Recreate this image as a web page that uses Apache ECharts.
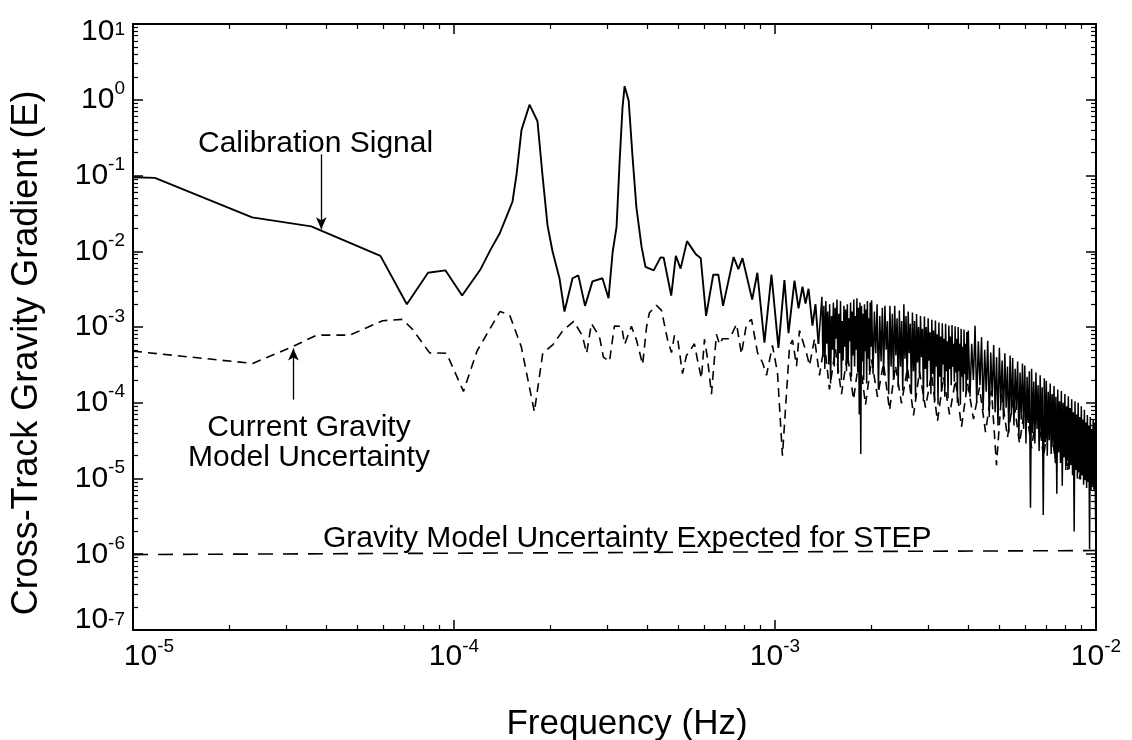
<!DOCTYPE html>
<html><head><meta charset="utf-8">
<script src="https://cdn.jsdelivr.net/npm/echarts@6/dist/echarts.min.js"></script>
<style>html,body{margin:0;padding:0;background:#fff}#c{width:1132px;height:740px}</style>
</head><body><div id="c"></div>
<script>
const FONT = '"Liberation Sans", Arial, Helvetica, sans-serif';

// ---- Calibration signal (solid), sparsely resolved part: Hz / E ----
const calFreq = [
1.0e-5,1.17e-5,2.35e-5,3.59e-5,5.9e-5,7.13e-5,8.3e-5,9.4e-5,1.06e-4,1.21e-4,1.30e-4,1.386e-4,1.468e-4,1.521e-4,1.566e-4,1.623e-4,1.719e-4,1.820e-4,1.887e-4,1.956e-4,2.027e-4,2.131e-4,2.209e-4,2.34e-4,2.44e-4,2.56e-4,2.70e-4,2.90e-4,3.03e-4,3.12e-4,3.21e-4,3.28e-4,3.35e-4,3.40e-4,3.50e-4,3.60e-4,3.70e-4,3.84e-4,3.95e-4,4.19e-4,4.40e-4,4.50e-4,4.75e-4,4.91e-4,5.08e-4,5.32e-4,5.67e-4,5.87e-4,6.10e-4,6.42e-4,6.66e-4,6.89e-4,7.43e-4,7.69e-4,7.92e-4,8.49e-4,8.81e-4,9.27e-4,9.75e-4,
1.025e-3,1.070e-3,1.102e-3,1.150e-3,1.184e-3,1.218e-3,1.245e-3,1.272e-3,1.308e-3,1.337e-3,1.366e-3];
const calVal = [
0.095,0.093,0.028,0.0213,0.0087,0.0020,0.0052,0.0056,0.0026,0.0058,0.0105,0.017,0.031,0.045,0.103,0.40,0.86,0.52,0.10,0.022,0.010,0.0044,0.0016,0.0044,0.0048,0.0019,0.0040,0.0044,0.0024,0.0097,0.0212,0.15,0.80,1.51,0.98,0.175,0.038,0.0114,0.0062,0.0056,0.0083,0.0082,0.0026,0.0087,0.0059,0.0136,0.0091,0.0081,0.0014,0.0049,0.0049,0.0019,0.0084,0.0058,0.0081,0.0023,0.0052,0.00062,0.0049,
5.3e-4,4.15e-3,8.3e-4,4.1e-3,1.76e-3,3.4e-3,2.04e-3,3.2e-3,1.04e-3,2.0e-3,6.0e-4];

// ---- Calibration signal, densely sampled part: frequency in mHz / E ----
const calDenseFreqMHz = [
1.40,1.41,1.42,1.43,1.44,1.45,1.46,1.47,1.48,1.49,
1.50,1.51,1.52,1.53,1.54,1.55,1.56,1.57,1.58,1.59,
1.60,1.61,1.62,1.63,1.64,1.65,1.66,1.67,1.68,1.69,
1.70,1.71,1.72,1.73,1.74,1.75,1.76,1.77,1.78,1.79,
1.80,1.81,1.82,1.83,1.84,1.85,1.86,1.87,1.88,1.89,
1.90,1.91,1.92,1.93,1.94,1.95,1.96,1.97,1.98,1.99,
2.00,2.02,2.04,2.06,2.08,2.10,2.12,2.14,2.16,2.18,
2.20,2.22,2.24,2.26,2.28,2.30,2.32,2.34,2.36,2.38,
2.40,2.42,2.44,2.46,2.48,2.50,2.52,2.54,2.56,2.58,
2.60,2.62,2.64,2.66,2.68,2.70,2.72,2.74,2.76,2.78,
2.80,2.82,2.84,2.86,2.88,2.90,2.92,2.94,2.96,2.98,
3.00,3.02,3.04,3.06,3.08,3.10,3.12,3.14,3.16,3.18,
3.20,3.22,3.24,3.26,3.28,3.30,3.32,3.34,3.36,3.38,
3.40,3.42,3.44,3.46,3.48,3.50,3.52,3.54,3.56,3.58,
3.60,3.62,3.64,3.66,3.68,3.70,3.72,3.74,3.76,3.78,
3.80,3.82,3.84,3.86,3.88,3.90,3.92,3.94,3.96,3.98,
4.00,4.05,4.10,4.15,4.20,4.25,4.30,4.35,4.40,4.45,
4.50,4.55,4.60,4.65,4.70,4.75,4.80,4.85,4.90,4.95,
5.00,5.05,5.10,5.15,5.20,5.25,5.30,5.35,5.40,5.45,
5.50,5.55,5.60,5.65,5.70,5.75,5.80,5.85,5.90,5.95,
6.00,6.05,6.10,6.15,6.20,6.25,6.30,6.35,6.40,6.45,
6.50,6.55,6.60,6.65,6.70,6.75,6.80,6.85,6.90,6.95,
7.00,7.05,7.10,7.15,7.20,7.25,7.30,7.35,7.40,7.45,
7.50,7.55,7.60,7.65,7.70,7.75,7.80,7.85,7.90,7.95,
8.00,8.05,8.10,8.15,8.20,8.25,8.30,8.35,8.40,8.45,
8.50,8.55,8.60,8.65,8.70,8.75,8.80,8.85,8.90,8.95,
9.00,9.05,9.10,9.15,9.20,9.25,9.30,9.35,9.40,9.45,
9.50,9.55,9.60,9.65,9.70,9.75,9.80,9.85,9.90,9.95,
10.00];
const calDenseVal = [
2.5e-3,4.0e-4,1.9e-3,2.8e-4,2.2e-3,6.0e-4,1.6e-3,3.2e-4,2.0e-3,1.8e-4,
1.4e-3,5.0e-4,2.1e-3,3.0e-4,1.8e-3,7.0e-4,2.3e-3,2.4e-4,1.5e-3,4.5e-4,
2.2e-3,2.0e-4,1.2e-3,3.6e-4,1.9e-3,5.5e-4,1.7e-3,2.6e-4,2.0e-3,3.3e-4,
1.3e-3,6.5e-4,2.1e-3,2.2e-4,1.6e-3,4.2e-4,2.3e-3,3.0e-4,1.4e-3,5.0e-4,
2.4e-3,2.5e-4,1.8e-3,7.0e-5,2.1e-3,2.1e-5,1.9e-3,3.5e-4,1.5e-3,2.0e-4,
2.0e-3,4.8e-4,1.7e-3,1.8e-4,2.2e-3,3.8e-4,1.3e-3,2.6e-4,2.1e-3,5.5e-4,
2.25e-3,2.4e-4,1.6e-3,4.5e-4,2.0e-3,1.5e-4,1.4e-3,3.5e-4,1.8e-3,2.3e-4,
1.9e-3,5.0e-4,1.2e-3,1.3e-4,1.9e-3,3.0e-4,1.5e-3,2.0e-4,1.9e-3,4.2e-4,
1.3e-3,1.6e-4,1.65e-3,3.0e-4,1.2e-3,1.45e-4,2.0e-3,3.8e-4,1.4e-3,1.9e-4,
1.6e-3,4.5e-4,1.1e-3,1.3e-4,1.55e-3,2.6e-4,1.2e-3,1.15e-4,1.48e-3,3.4e-4,
1.0e-3,2.1e-4,1.4e-3,4.0e-4,9.5e-4,1.05e-4,1.38e-3,2.8e-4,1.0e-3,1.6e-4,
1.3e-3,3.6e-4,8.5e-4,1.3e-4,1.25e-3,2.4e-4,9.0e-4,1.0e-4,1.22e-3,3.0e-4,
8.0e-4,9.5e-5,1.15e-3,2.2e-4,7.5e-4,1.4e-4,1.12e-3,3.2e-4,7.0e-4,1.2e-4,
1.1e-3,2.6e-4,6.5e-4,1.15e-4,1.05e-3,2.8e-4,7.5e-4,1.7e-4,1.06e-3,3.0e-4,
6.0e-4,1.9e-4,1.02e-3,2.5e-4,7.0e-4,1.0e-4,1.0e-3,2.6e-4,6.0e-4,9.4e-5,
9.5e-4,2.2e-4,5.5e-4,1.4e-4,9.3e-4,2.4e-4,6.0e-4,1.3e-4,8.6e-4,2.0e-4,
9.0e-4,1.2e-4,6.0e-4,2.0e-4,1.04e-3,1.0e-4,6.5e-4,1.7e-4,7.3e-4,8.0e-5,
5.0e-4,1.4e-4,6.6e-4,6.5e-5,4.6e-4,1.2e-4,5.8e-4,7.5e-5,4.0e-4,5.0e-5,
5.3e-4,1.0e-4,3.6e-4,6.0e-5,4.5e-4,8.6e-5,3.0e-4,4.0e-5,4.2e-4,7.0e-5,
3.9e-4,5.0e-5,2.8e-4,8.0e-5,3.5e-4,3.4e-5,2.5e-4,6.0e-5,3.3e-4,4.5e-5,
3.1e-4,2.9e-5,2.2e-4,5.4e-5,2.6e-4,4.1e-6,2.8e-4,4.0e-5,1.9e-4,2.9e-5,
2.5e-4,4.5e-5,1.7e-4,2.3e-5,2.3e-4,3.5e-5,1.6e-4,3.3e-6,2.1e-4,3.0e-5,
1.95e-4,2.0e-5,1.4e-4,3.2e-5,1.8e-4,2.1e-5,1.3e-4,2.6e-5,1.66e-4,1.8e-5,
1.2e-4,6.3e-6,1.5e-4,2.2e-5,1.05e-4,1.6e-5,1.43e-4,8.0e-6,1.0e-4,1.9e-5,
1.3e-4,1.3e-5,9.0e-5,1.7e-5,1.22e-4,1.33e-5,8.5e-5,1.5e-5,1.11e-4,1.1e-5,
7.5e-5,2.0e-6,1.05e-4,1.3e-5,7.0e-5,1.0e-5,1.0e-4,1.2e-5,6.5e-5,9.7e-6,
9.0e-5,1.1e-5,6.0e-5,8.3e-6,8.1e-5,9.5e-6,5.5e-5,7.5e-6,6.9e-5,9.0e-6,
5.0e-5,1.16e-6,6.5e-5,7.0e-6,4.5e-5,8.0e-6,6.0e-5,7.1e-6,5.5e-5,6.5e-6,
1.16e-6];

// ---- Current gravity model uncertainty (dashed): Hz / E ----
const curFreq = [
1.0e-5,2.36e-5,3.14e-5,3.73e-5,4.73e-5,5.99e-5,6.91e-5,7.43e-5,8.39e-5,9.48e-5,1.07e-4,1.18e-4,1.39e-4,1.49e-4,1.62e-4,1.78e-4,1.89e-4,2.03e-4,2.18e-4,2.36e-4,2.51e-4,2.59e-4,2.68e-4,2.84e-4,2.92e-4,3.05e-4,3.16e-4,3.33e-4,3.40e-4,3.57e-4,3.70e-4,3.87e-4,3.98e-4,4.06e-4,4.27e-4,4.43e-4,4.63e-4,4.76e-4,4.86e-4,4.97e-4,5.15e-4,5.30e-4,5.61e-4,5.74e-4,5.90e-4,6.03e-4,6.16e-4,6.34e-4,6.57e-4,6.72e-4,6.86e-4,7.22e-4,7.59e-4,7.86e-4,8.15e-4,8.45e-4,8.82e-4,9.14e-4,9.41e-4,9.82e-4,
1.018e-3,1.055e-3,1.110e-3,1.134e-3,1.167e-3,1.192e-3,1.254e-3,1.281e-3,1.328e-3,1.376e-3,1.426e-3,1.478e-3,1.543e-3,1.611e-3,1.682e-3,1.756e-3,1.833e-3,1.914e-3,1.998e-3,2.086e-3,2.178e-3,2.274e-3,2.373e-3,2.478e-3,2.587e-3,2.701e-3,2.819e-3,2.943e-3,3.073e-3,3.208e-3,3.349e-3,3.497e-3,3.650e-3,3.811e-3,3.979e-3,4.154e-3,4.336e-3,4.527e-3,4.726e-3,4.898e-3,5.077e-3,5.300e-3,5.534e-3,5.777e-3,6.031e-3,6.297e-3,6.574e-3,6.862e-3,7.164e-3,7.479e-3,7.808e-3,8.152e-3,8.510e-3,8.885e-3,9.275e-3,9.683e-3,9.98e-3];
const curVal = [
4.8e-4,3.3e-4,5.5e-4,7.8e-4,7.8e-4,1.21e-3,1.26e-3,9.3e-4,4.56e-4,4.5e-4,1.41e-4,4.83e-4,1.6e-3,1.45e-3,5.5e-4,7.6e-5,4.5e-4,5.8e-4,8.9e-4,1.19e-3,7.7e-4,4.5e-4,1.11e-3,7.4e-4,4.0e-4,3.5e-4,1.03e-3,1.02e-3,5.9e-4,1.02e-3,6.8e-4,3.2e-4,1.0e-3,1.53e-3,1.94e-3,1.66e-3,6.7e-4,4.6e-4,7.7e-4,7.2e-4,2.43e-4,4.2e-4,6.0e-4,3.6e-4,2.1e-4,6.9e-4,3.9e-4,1.3e-4,8.0e-4,5.9e-4,7.0e-4,7.0e-4,1.09e-3,4.4e-4,1.09e-3,1.26e-3,4.6e-4,3.4e-4,2.3e-4,5.7e-4,
2.5e-4,2.0e-5,5.6e-4,6.7e-4,3.05e-4,9.0e-4,4.5e-4,3.1e-4,7.0e-4,2.3e-4,6.0e-4,1.5e-4,5.1e-4,1.3e-4,4.4e-4,1.1e-4,4.1e-4,9.4e-5,3.7e-4,1.2e-4,3.3e-4,8.0e-5,3.1e-4,9.8e-5,2.9e-4,6.8e-5,2.6e-4,8.6e-5,2.4e-4,5.7e-5,2.2e-4,7.0e-5,2.0e-4,4.8e-5,1.82e-4,6.1e-5,1.6e-4,4.1e-5,1.45e-4,1.5e-5,1.3e-4,3.5e-5,1.15e-4,2.9e-5,1.0e-4,2.5e-5,8.9e-5,1.9e-5,7.6e-5,1.6e-5,6.5e-5,1.26e-5,5.7e-5,9.8e-6,4.7e-5,8.3e-6,3.8e-5];

// ---- Gravity model uncertainty expected for STEP (long dashes) ----
const stepFreq = [1e-5, 1e-2];
const stepVal = [9.9e-7, 1.12e-6];

// ---- annotation arrows (data coordinates) ----
const calArrowFreq = 3.86e-5, calArrowFrom = 0.19, calArrowTo = 0.0195;
const curArrowFreq = 3.16e-5, curArrowFrom = 1.1e-4, curArrowTo = 5.2e-4;

// ---- texts ----
const xTitle = 'Frequency (Hz)';
const yTitle = 'Cross-Track Gravity Gradient (E)';
const calLabel = 'Calibration Signal';
const curLabel = 'Current Gravity\nModel Uncertainty';
const stepLabel = 'Gravity Model Uncertainty Expected for STEP';

// ---- axis ranges / ticks ----
const xMin = 1e-5, xMax = 1e-2, yMin = 1e-7, yMax = 1e1;
const xDecades = [-5, -4, -3];
const yDecades = [-7, -6, -5, -4, -3, -2, -1, 0];
const minorMult = [2, 3, 4, 5, 6, 7, 8, 9];

function minorTicks(decades) {
  const out = [];
  decades.forEach(d => minorMult.forEach(m => out.push(m * Math.pow(10, d))));
  return out;
}
const xMinor = minorTicks(xDecades);
const yMinor = minorTicks(yDecades);
const zip = (a, b) => a.map((v, i) => [v, b[i]]);
const calSmooth = zip(calFreq, calVal);
const calDense = [calSmooth[calSmooth.length - 1]].concat(
  zip(calDenseFreqMHz.map(m => m * 1e-3), calDenseVal));

const black = '#000';
const baseRich = {
  b: { fontSize: 30, fontFamily: FONT, color: black, lineHeight: 40 },
  f: { fontSize: 30, fontFamily: FONT, color: black, lineHeight: 40, padding: [0, 0, 0, 32] },
  t: { fontSize: 30, fontFamily: FONT, color: black, lineHeight: 40, padding: [16, 0, 0, 0] },
  m: { fontSize: 30, fontFamily: FONT, color: black, lineHeight: 40, padding: [0, 0, 20, 0] },
  s: { fontSize: 19, fontFamily: FONT, color: black, lineHeight: 19, verticalAlign: 'top' },
  st: { fontSize: 19, fontFamily: FONT, color: black, lineHeight: 19, verticalAlign: 'top', padding: [16, 0, 0, 0] }
};
function expOf(v) { return Math.round(Math.log10(v)); }

function majorAxis(extra) {
  return Object.assign({
    type: 'log', logBase: 10,
    axisLine: { show: true, onZero: false, lineStyle: { color: black, width: 2 } },
    axisTick: { show: true, inside: true, length: 10, lineStyle: { color: black, width: 1.5 } },
    splitLine: { show: false }, minorTick: { show: false }, minorSplitLine: { show: false }
  }, extra);
}
function minorAxis(extra, values) {
  return Object.assign({
    type: 'log', logBase: 10,
    axisLine: { show: false },
    axisTick: { show: true, inside: true, length: 5, customValues: values, lineStyle: { color: black, width: 1.2 } },
    axisLabel: { show: false }, splitLine: { show: false }
  }, extra);
}

const arrowMark = (f, from, to) => ({
  silent: true, symbol: ['none', 'arrow'], symbolSize: [8, 12], animation: false,
  label: { show: false }, lineStyle: { color: black, width: 1.3, type: 'solid' },
  data: [[{ coord: [f, from] }, { coord: [f, to] }]]
});

const chart = echarts.init(document.getElementById('c'));
chart.setOption({
  backgroundColor: '#fff',
  animation: false,
  grid: { left: 133, right: 36, top: 24, bottom: 110, containLabel: false },
  xAxis: [
    majorAxis({ min: xMin, max: xMax, position: 'bottom', splitNumber: 3,
      axisLabel: { show: true, margin: 7, showMinLabel: true, showMaxLabel: true,
        formatter: v => { const e = expOf(v); return '{' + (e === -5 ? 'f' : 'b') + '|10}{s|' + e + '}'; },
        rich: baseRich } }),
    minorAxis({ min: xMin, max: xMax, position: 'bottom' }, xMinor),
    majorAxis({ min: xMin, max: xMax, position: 'top', splitNumber: 3, axisLabel: { show: false } }),
    minorAxis({ min: xMin, max: xMax, position: 'top' }, xMinor)
  ],
  yAxis: [
    majorAxis({ min: yMin, max: yMax, position: 'left', splitNumber: 8,
      axisLabel: { show: true, margin: 8, showMinLabel: true, showMaxLabel: true,
        formatter: v => { const e = expOf(v); const k = e === 1 ? 't' : (e === -7 ? 'm' : 'b'); return '{' + k + '|10}{' + (e === 1 ? 'st' : 's') + '|' + e + '}'; },
        rich: baseRich } }),
    minorAxis({ min: yMin, max: yMax, position: 'left' }, yMinor),
    majorAxis({ min: yMin, max: yMax, position: 'right', splitNumber: 8, axisLabel: { show: false } }),
    minorAxis({ min: yMin, max: yMax, position: 'right' }, yMinor)
  ],
  series: [
    { name: 'Current Gravity Model Uncertainty', type: 'line', xAxisIndex: 0, yAxisIndex: 0,
      data: zip(curFreq, curVal), showSymbol: false, symbol: 'none', clip: true,
      lineStyle: { color: black, width: 1.6, type: [9, 6] },
      markLine: arrowMark(curArrowFreq, curArrowFrom, curArrowTo) },
    { name: 'Calibration Signal', type: 'line', xAxisIndex: 0, yAxisIndex: 0,
      data: calSmooth, showSymbol: false, symbol: 'none', clip: true,
      lineStyle: { color: black, width: 1.9 },
      markLine: arrowMark(calArrowFreq, calArrowFrom, calArrowTo) },
    { name: 'Calibration Signal (dense part)', type: 'line', xAxisIndex: 0, yAxisIndex: 0,
      data: calDense, showSymbol: false, symbol: 'none', clip: true,
      lineStyle: { color: black, width: 1.5 } },
    { name: 'STEP', type: 'line', xAxisIndex: 0, yAxisIndex: 0,
      data: zip(stepFreq, stepVal), showSymbol: false, symbol: 'none',
      lineStyle: { color: black, width: 1.6, type: [15, 10] } }
  ],
  graphic: [
    { type: 'text', x: 198, y: 144, style: { text: calLabel, fontSize: 30, fontFamily: FONT, fill: black, align: 'left', verticalAlign: 'middle', textAlign: 'left', textVerticalAlign: 'middle' } },
    { type: 'text', x: 309, y: 443, style: { text: curLabel, fontSize: 30, lineHeight: 30, fontFamily: FONT, fill: black, align: 'center', verticalAlign: 'middle', textAlign: 'center', textVerticalAlign: 'middle' } },
    { type: 'text', x: 323, y: 539, style: { text: stepLabel, fontSize: 30, fontFamily: FONT, fill: black, align: 'left', verticalAlign: 'middle', textAlign: 'left', textVerticalAlign: 'middle' } },
    { type: 'text', x: 627, y: 724, style: { text: xTitle, fontSize: 35, fontFamily: FONT, fill: black, align: 'center', verticalAlign: 'middle', textAlign: 'center', textVerticalAlign: 'middle' } },
    { type: 'text', x: 27, y: 353, rotation: Math.PI / 2, style: { text: yTitle, fontSize: 36, fontFamily: FONT, fill: black, align: 'center', verticalAlign: 'middle', textAlign: 'center', textVerticalAlign: 'middle' } }
  ]
});
</script>
</body></html>
